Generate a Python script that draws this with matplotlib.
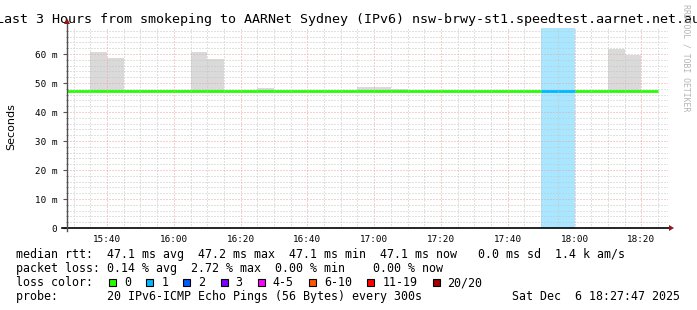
import matplotlib
matplotlib.use("Agg")
import matplotlib.pyplot as plt
import matplotlib.patches as mpatches
from matplotlib.lines import Line2D
from matplotlib.ticker import MultipleLocator, FixedLocator
import numpy as np

# ---------------- data ----------------
title = "Last 3 Hours from smokeping to AARNet Sydney (IPv6) nsw-brwy-st1.speedtest.aarnet.net.au"
x_start = "15:28:00"
x_end = "18:28:00"
bin_starts = ["15:25", "15:30", "15:35", "15:40", "15:45", "15:50", "15:55", "16:00",
              "16:05", "16:10", "16:15", "16:20", "16:25", "16:30", "16:35", "16:40",
              "16:45", "16:50", "16:55", "17:00", "17:05", "17:10", "17:15", "17:20",
              "17:25", "17:30", "17:35", "17:40", "17:45", "17:50", "17:55", "18:00",
              "18:05", "18:10", "18:15", "18:20"]
smoke_min = [46.9] * 36
smoke_max = [47.2, 47.2, 60.6, 58.5, 47.5, 47.5, 47.5, 47.5,
             60.6, 58.2, 47.2, 47.2, 48.2, 47.2, 47.2, 47.2,
             47.2, 47.2, 48.5, 48.5, 47.8, 47.2, 47.2, 47.2,
             47.2, 47.2, 47.2, 47.2, 47.2, 47.2, 47.2, 47.2,
             47.2, 61.7, 59.7, 47.2]
median_ms = [47.1] * 36
loss_pings = [0] * 29 + [1, 1] + [0] * 5
bin_minutes = 5

xtick_labels = ["15:40", "16:00", "16:20", "16:40", "17:00", "17:20", "17:40", "18:00", "18:20"]
ytick_values = [0, 10, 20, 30, 40, 50, 60]
ytick_labels = ["0", "10 m", "20 m", "30 m", "40 m", "50 m", "60 m"]
y_max = 69

loss_labels = ["0", "1", "2", "3", "4-5", "6-10", "11-19", "20/20"]
loss_colors = ["#26ff00", "#00b8ff", "#0059ff", "#7e00ff", "#ff00ff", "#ff5500", "#ff0000", "#a10000"]

legend_rows = [
    "median rtt:  47.1 ms avg  47.2 ms max  47.1 ms min  47.1 ms now   0.0 ms sd  1.4 k am/s",
    "packet loss: 0.14 % avg  2.72 % max  0.00 % min    0.00 % now",
    "loss color:",
    "probe:       20 IPv6-ICMP Echo Pings (56 Bytes) every 300s",
]
date_text = "Sat Dec  6 18:27:47 2025"
side_text = "RRDTOOL / TOBI OETIKER"


def to_min(s):
    parts = [int(p) for p in s.split(":")]
    m = (parts[0] - 15) * 60 + parts[1]
    if len(parts) > 2:
        m += parts[2] / 60.0
    return m


def loss_index(n):
    if n == 0:
        return 0
    if n <= 3:
        return n
    if n <= 5:
        return 4
    if n <= 10:
        return 5
    if n <= 19:
        return 6
    return 7


# ---------------- figure ----------------
W, H = 697, 310
fig = plt.figure(figsize=(W / 100, H / 100), dpi=100)
fig.patch.set_facecolor("white")


def fx(px):
    return px / W


def fy(py):
    return 1 - py / H


MONO = "DejaVu Sans Mono"

ax_l, ax_r, ax_t, ax_b = 67, 668, 28, 228
ax = fig.add_axes([fx(ax_l), fy(ax_b), (ax_r - ax_l) / W, (ax_b - ax_t) / H])
ax.set_facecolor("white")

xs = np.array([to_min(s) for s in bin_starts])
xmin, xmax = to_min(x_start), to_min(x_end)
ax.set_xlim(xmin, xmax)
ax.set_ylim(0, y_max)

# loss background
for x0, n in zip(xs, loss_pings):
    if n > 0:
        c = np.array(matplotlib.colors.to_rgb(loss_colors[loss_index(n)]))
        light = 1 - 0.34 * (1 - c)
        ax.axvspan(x0, x0 + bin_minutes, color=light, lw=0, zorder=0.8)

# smoke
smin = np.array(smoke_min)
smax = np.array(smoke_max)
ax.bar(xs, smax - smin, bottom=smin, width=bin_minutes, align="edge",
       color="#dadada", lw=0, zorder=1)

# median line coloured by loss
ax.hlines(median_ms, xs, xs + bin_minutes,
          colors=[loss_colors[loss_index(n)] for n in loss_pings],
          lw=2.0, zorder=3, capstyle="butt")

# grid
ax.xaxis.set_major_locator(FixedLocator([to_min(s) for s in xtick_labels]))
ax.xaxis.set_minor_locator(MultipleLocator(5))
ax.yaxis.set_major_locator(FixedLocator(ytick_values))
ax.yaxis.set_minor_locator(MultipleLocator(2))
ax.set_xticklabels(xtick_labels)
ax.set_yticklabels(ytick_labels)
ax.set_axisbelow(False)
ax.grid(which="minor", color="#c4c4c4", lw=0.72, linestyle=(0, (1, 2)))
ax.grid(which="major", color="#f2a0a0", lw=0.72, linestyle=(0, (1, 2)))

for sp in ax.spines.values():
    sp.set_visible(False)

ax.tick_params(axis="x", which="major", length=0, pad=5, labelsize=6.7, labelcolor="black")
ax.tick_params(axis="x", which="minor", length=0)
ax.tick_params(axis="y", which="major", length=3, width=0.8, color="#555555", direction="out",
               pad=4, labelsize=6.7, labelcolor="black")
ax.tick_params(axis="y", which="minor", length=1.5, width=0.6, color="#777777", direction="inout")
for lab in ax.get_xticklabels() + ax.get_yticklabels():
    lab.set_family(MONO)

# axes lines with arrows
fig.add_artist(Line2D([fx(62), fx(ax_r + 1)], [fy(ax_b), fy(ax_b)], color="black", lw=1.2,
                      transform=fig.transFigure, zorder=5))
fig.add_artist(Line2D([fx(ax_l), fx(ax_l)], [fy(ax_b + 3), fy(22)], color="#505050", lw=1.0,
                      transform=fig.transFigure, zorder=5))
fig.add_artist(mpatches.Polygon([[fx(ax_r + 1), fy(ax_b - 3)], [fx(ax_r + 1), fy(ax_b + 3)],
                                 [fx(ax_r + 6), fy(ax_b)]], closed=True,
                                facecolor="#8b1a1a", edgecolor="none",
                                transform=fig.transFigure, zorder=6))
fig.add_artist(mpatches.Polygon([[fx(ax_l - 3), fy(24)], [fx(ax_l + 3), fy(24)],
                                 [fx(ax_l), fy(18)]], closed=True,
                                facecolor="#8b1a1a", edgecolor="none",
                                transform=fig.transFigure, zorder=6))

# texts
fig.text(fx(348.5), fy(19), title, ha="center", va="center", fontsize=9.6, family=MONO, color="black")
fig.text(fx(11), fy(127), "Seconds", rotation=90, ha="center", va="center", fontsize=8,
         family="DejaVu Sans", color="black")
fig.text(fx(686), fy(58), side_text, rotation=270, ha="center", va="center", fontsize=5.9,
         family=MONO, color="#b4b4b4")

row_y = [254.5, 268.5, 282.5, 296.5]
for s, yy in zip(legend_rows, row_y):
    fig.text(fx(16), fy(yy), s, ha="left", va="center", fontsize=8.4, family=MONO, color="black")
fig.text(fx(680), fy(row_y[3]), date_text, ha="right", va="center", fontsize=8.4, family=MONO,
         color="black")

# loss colour swatches
cw = 7.02
sx = 109.0
for lab, col in zip(loss_labels, loss_colors):
    fig.add_artist(mpatches.Rectangle((fx(sx), fy(row_y[2] + 3.5)), 7 / W, 7 / H,
                                      facecolor=col, edgecolor="black", lw=0.8,
                                      transform=fig.transFigure))
    fig.text(fx(sx + 15), fy(row_y[2]), lab, ha="left", va="center", fontsize=8.4,
             family=MONO, color="black")
    sx += (len(lab) + 4.3) * cw

fig.savefig("out.png", dpi=100, facecolor="white")
